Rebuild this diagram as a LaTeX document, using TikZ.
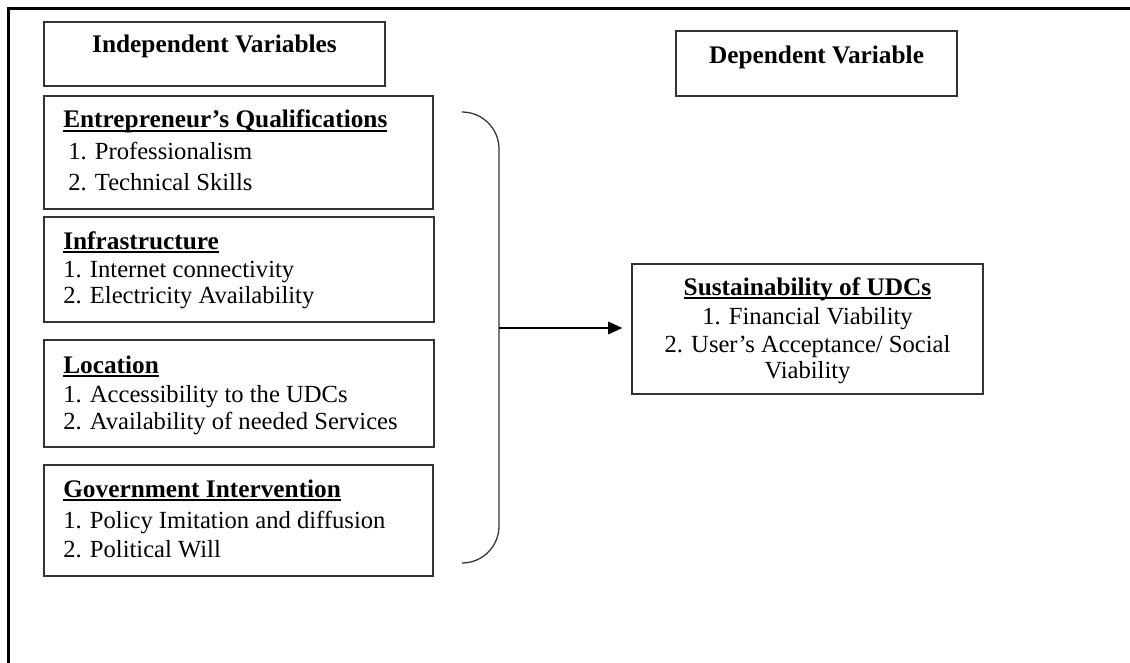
\documentclass[tikz,border=0pt]{standalone}
\usepackage{fontspec}
\setmainfont{Liberation Serif}
\usetikzlibrary{arrows.meta}

\newcommand{\headul}[1]{\setbox0\hbox{#1}\rlap{\rule[-2.6pt]{\wd0}{0.9pt}}\box0}

\tikzset{
	varbox/.style={draw=black!80, line width=1pt, inner sep=0pt},
	heading/.style={anchor=base west, inner sep=0pt, font=\fontsize{18}{21}\selectfont\bfseries},
	item/.style={anchor=base west, inner sep=0pt, font=\fontsize{17.5}{21}\selectfont},
}

\begin{document}
\begin{tikzpicture}[x=0.025cm,y=-0.025cm]
		\useasboundingbox (0,0) rectangle (1130,663);
		\draw[line width=2.8pt] (1130,8.5) -- (8.5,8.5) -- (8.5,663);
		
		\node[varbox, minimum width=8.525cm, minimum height=1.6cm] (indepbox) at (214.5,54) {};
		\node[heading, anchor=base] (indep) at (214.5,53) {Independent Variables};
		\node[varbox, minimum width=7.025cm, minimum height=1.625cm] (depbox) at (816.5,63.5) {};
		\node[heading, anchor=base] (dep) at (816.5,64) {Dependent Variable};
		
		\node[varbox, minimum width=9.725cm, minimum height=2.825cm] (entbox) at (238.5,152.5) {};
		\node[heading] (ent) at (63,128) {\headul{Entrepreneur's Qualifications}};
		\node[item] (ent1) at (68,159) {1. Professionalism};
		\node[item] (ent2) at (68,191) {2. Technical Skills};
		
		\node[varbox, minimum width=9.75cm, minimum height=2.625cm] (infrabox) at (239,269.5) {};
		\node[heading] (infra) at (63,249) {\headul{Infrastructure}};
		\node[item] (infra1) at (63,277) {1. Internet connectivity};
		\node[item] (infra2) at (63,303) {2. Electricity Availability};
		
		\node[varbox, minimum width=9.75cm, minimum height=2.675cm] (locbox) at (239,393.5) {};
		\node[heading] (loc) at (63,373) {\headul{Location}};
		\node[item] (loc1) at (63,402) {1. Accessibility to the UDCs};
		\node[item] (loc2) at (63,429) {2. Availability of needed Services};
		
		\node[varbox, minimum width=9.725cm, minimum height=2.775cm] (govbox) at (238.5,520.5) {};
		\node[heading] (gov) at (63,497) {\headul{Government Intervention}};
		\node[item] (gov1) at (63,528) {1. Policy Imitation and diffusion};
		\node[item] (gov2) at (63,557) {2. Political Will};
		
		\node[varbox, minimum width=8.775cm, minimum height=3.25cm] (sust) at (807.5,329) {};
		\node[heading, anchor=base] (sustT) at (807.5,295) {\headul{Sustainability of UDCs}};
		\node[item, anchor=base] (sust1) at (807.5,324) {1. Financial Viability};
		\node[item, anchor=base] (sust2) at (807.5,352) {2. User's Acceptance/ Social};
		\node[item, anchor=base] (sust3) at (807.5,378) {Viability};
		
		\coordinate (btop) at (462,112);
		\coordinate (bbot) at (462,563);
		\coordinate (bmid) at (499,328);
		\draw[line width=0.9pt, black!80, rounded corners=0.925cm] (btop) -- (499,112) -- (499,563) -- (bbot);
		\draw[line width=0.9pt, -{Triangle[length=10pt,width=9pt]}, shorten >=6.4pt] (bmid) -- (bmid -| sust.west);
\end{tikzpicture}
\end{document}
